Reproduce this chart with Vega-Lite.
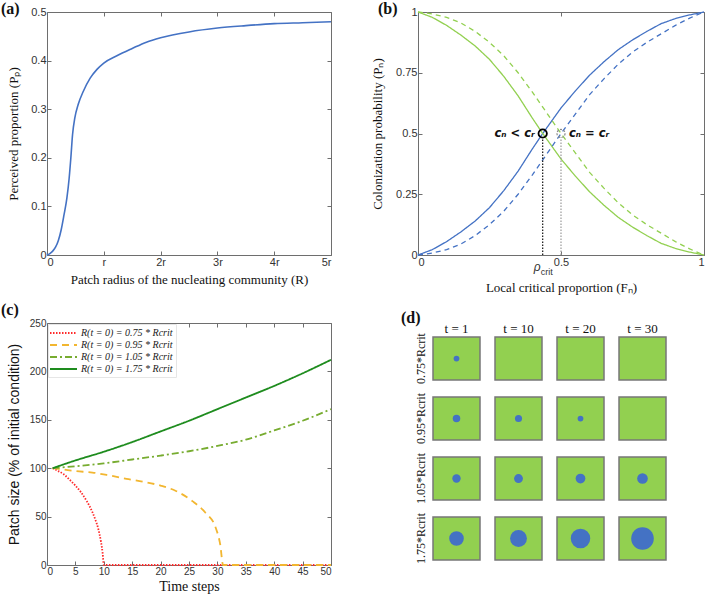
{
 "$schema": "https://vega.github.io/schema/vega-lite/v6.json",
 "bounds": "flush",
 "align": "each",
 "columns": 2,
 "spacing": {"row": 68, "column": 87},
 "padding": {"left": 0, "top": 0, "right": 0, "bottom": 0},
 "resolve": {"scale": {"color": "independent", "strokeDash": "independent"}},
 "config": {
  "view": {"stroke": "#6e6e6e", "strokeWidth": 1},
  "axis": {"domain": false, "grid": false, "tickColor": "#6e6e6e", "tickSize": -4, "tickWidth": 1, "labelFont": "Liberation Sans", "labelFontSize": 11, "labelColor": "#333333", "labelPadding": 5, "titleFont": "Liberation Serif", "titleFontSize": 13, "titleFontWeight": "normal", "titleColor": "#111111"},
  "title": {"font": "Liberation Serif", "fontSize": 16, "fontWeight": "bold", "color": "#111111", "anchor": "start", "frame": "group", "baseline": "alphabetic", "offset": 0},
  "legend": {"orient": "top-left", "offset": 1, "padding": 3, "title": null, "symbolType": "M-1.4,0H4.0", "symbolStrokeWidth": 1.8, "symbolSize": 100, "labelOffset": 18, "labelFont": "Liberation Serif", "labelFontStyle": "italic", "labelFontSize": 10, "labelColor": "#222222", "rowPadding": 1, "fillColor": "white", "strokeColor": "#e6e6e6", "labelLimit": 300}
 },
 "datasets": {
  "pa": [
   {"R": 0, "Pp": 0}, {"R": 0.05, "Pp": 0.003}, {"R": 0.1, "Pp": 0.008}, {"R": 0.15, "Pp": 0.016}, {"R": 0.2, "Pp": 0.03}, {"R": 0.25, "Pp": 0.052}, {"R": 0.3, "Pp": 0.083}, {"R": 0.35, "Pp": 0.117}, {"R": 0.39, "Pp": 0.158}, {"R": 0.42, "Pp": 0.2}, {"R": 0.45, "Pp": 0.248}, {"R": 0.49, "Pp": 0.282}, {"R": 0.55, "Pp": 0.31}, {"R": 0.64, "Pp": 0.337}, {"R": 0.76, "Pp": 0.364}, {"R": 0.88, "Pp": 0.382}, {"R": 1.0, "Pp": 0.395}, {"R": 1.23, "Pp": 0.41}, {"R": 1.5, "Pp": 0.425}, {"R": 1.75, "Pp": 0.438}, {"R": 2.0, "Pp": 0.447}, {"R": 2.5, "Pp": 0.459}, {"R": 3.0, "Pp": 0.467}, {"R": 3.5, "Pp": 0.472}, {"R": 4.0, "Pp": 0.476}, {"R": 4.5, "Pp": 0.478}, {"R": 5.0, "Pp": 0.48}
  ],
  "pb": [
   {"s": "blue solid", "F": 0, "P": 0}, {"s": "blue solid", "F": 0.05, "P": 0.022}, {"s": "blue solid", "F": 0.1, "P": 0.055}, {"s": "blue solid", "F": 0.15, "P": 0.095}, {"s": "blue solid", "F": 0.2, "P": 0.14}, {"s": "blue solid", "F": 0.25, "P": 0.195}, {"s": "blue solid", "F": 0.3, "P": 0.265}, {"s": "blue solid", "F": 0.35, "P": 0.345}, {"s": "blue solid", "F": 0.4, "P": 0.437}, {"s": "blue solid", "F": 0.436, "P": 0.5}, {"s": "blue solid", "F": 0.5, "P": 0.605}, {"s": "blue solid", "F": 0.55, "P": 0.675}, {"s": "blue solid", "F": 0.6, "P": 0.74}, {"s": "blue solid", "F": 0.65, "P": 0.795}, {"s": "blue solid", "F": 0.7, "P": 0.845}, {"s": "blue solid", "F": 0.75, "P": 0.885}, {"s": "blue solid", "F": 0.8, "P": 0.92}, {"s": "blue solid", "F": 0.85, "P": 0.952}, {"s": "blue solid", "F": 0.9, "P": 0.973}, {"s": "blue solid", "F": 0.95, "P": 0.988}, {"s": "blue solid", "F": 1, "P": 1},
   {"s": "green solid", "F": 0, "P": 1}, {"s": "green solid", "F": 0.05, "P": 0.978}, {"s": "green solid", "F": 0.1, "P": 0.945}, {"s": "green solid", "F": 0.15, "P": 0.905}, {"s": "green solid", "F": 0.2, "P": 0.86}, {"s": "green solid", "F": 0.25, "P": 0.805}, {"s": "green solid", "F": 0.3, "P": 0.735}, {"s": "green solid", "F": 0.35, "P": 0.655}, {"s": "green solid", "F": 0.4, "P": 0.563}, {"s": "green solid", "F": 0.436, "P": 0.5}, {"s": "green solid", "F": 0.5, "P": 0.395}, {"s": "green solid", "F": 0.55, "P": 0.325}, {"s": "green solid", "F": 0.6, "P": 0.26}, {"s": "green solid", "F": 0.65, "P": 0.205}, {"s": "green solid", "F": 0.7, "P": 0.155}, {"s": "green solid", "F": 0.75, "P": 0.115}, {"s": "green solid", "F": 0.8, "P": 0.08}, {"s": "green solid", "F": 0.85, "P": 0.048}, {"s": "green solid", "F": 0.9, "P": 0.027}, {"s": "green solid", "F": 0.95, "P": 0.012}, {"s": "green solid", "F": 1, "P": 0},
   {"s": "blue dashed", "F": 0, "P": 0}, {"s": "blue dashed", "F": 0.05, "P": 0.008}, {"s": "blue dashed", "F": 0.1, "P": 0.022}, {"s": "blue dashed", "F": 0.15, "P": 0.045}, {"s": "blue dashed", "F": 0.2, "P": 0.08}, {"s": "blue dashed", "F": 0.25, "P": 0.125}, {"s": "blue dashed", "F": 0.3, "P": 0.18}, {"s": "blue dashed", "F": 0.35, "P": 0.25}, {"s": "blue dashed", "F": 0.4, "P": 0.33}, {"s": "blue dashed", "F": 0.45, "P": 0.415}, {"s": "blue dashed", "F": 0.5, "P": 0.5}, {"s": "blue dashed", "F": 0.55, "P": 0.58}, {"s": "blue dashed", "F": 0.6, "P": 0.66}, {"s": "blue dashed", "F": 0.65, "P": 0.725}, {"s": "blue dashed", "F": 0.7, "P": 0.785}, {"s": "blue dashed", "F": 0.75, "P": 0.835}, {"s": "blue dashed", "F": 0.8, "P": 0.875}, {"s": "blue dashed", "F": 0.85, "P": 0.91}, {"s": "blue dashed", "F": 0.9, "P": 0.945}, {"s": "blue dashed", "F": 0.95, "P": 0.975}, {"s": "blue dashed", "F": 1, "P": 1},
   {"s": "green dashed", "F": 0, "P": 1}, {"s": "green dashed", "F": 0.05, "P": 0.992}, {"s": "green dashed", "F": 0.1, "P": 0.978}, {"s": "green dashed", "F": 0.15, "P": 0.955}, {"s": "green dashed", "F": 0.2, "P": 0.92}, {"s": "green dashed", "F": 0.25, "P": 0.875}, {"s": "green dashed", "F": 0.3, "P": 0.82}, {"s": "green dashed", "F": 0.35, "P": 0.75}, {"s": "green dashed", "F": 0.4, "P": 0.67}, {"s": "green dashed", "F": 0.45, "P": 0.585}, {"s": "green dashed", "F": 0.5, "P": 0.5}, {"s": "green dashed", "F": 0.55, "P": 0.42}, {"s": "green dashed", "F": 0.6, "P": 0.34}, {"s": "green dashed", "F": 0.65, "P": 0.275}, {"s": "green dashed", "F": 0.7, "P": 0.215}, {"s": "green dashed", "F": 0.75, "P": 0.165}, {"s": "green dashed", "F": 0.8, "P": 0.125}, {"s": "green dashed", "F": 0.85, "P": 0.09}, {"s": "green dashed", "F": 0.9, "P": 0.055}, {"s": "green dashed", "F": 0.95, "P": 0.025}, {"s": "green dashed", "F": 1, "P": 0}
  ],
  "pbMarks": [
   {"kind": "crit", "F": 0.436, "P": 0.5, "P0": 0, "P1": 0.484, "label": "cₙ < cᵣ"},
   {"kind": "half", "F": 0.5, "P": 0.5, "P0": 0, "P1": 0.484, "label": "cₙ = cᵣ"}
  ],
  "pc": [
   {"s": "R(t = 0) = 0.75 * Rcrit", "t": 1, "v": 100}, {"s": "R(t = 0) = 0.75 * Rcrit", "t": 2, "v": 97}, {"s": "R(t = 0) = 0.75 * Rcrit", "t": 3, "v": 93.5}, {"s": "R(t = 0) = 0.75 * Rcrit", "t": 4, "v": 88}, {"s": "R(t = 0) = 0.75 * Rcrit", "t": 5, "v": 82}, {"s": "R(t = 0) = 0.75 * Rcrit", "t": 6, "v": 75}, {"s": "R(t = 0) = 0.75 * Rcrit", "t": 7, "v": 66}, {"s": "R(t = 0) = 0.75 * Rcrit", "t": 8, "v": 54.5}, {"s": "R(t = 0) = 0.75 * Rcrit", "t": 8.5, "v": 47}, {"s": "R(t = 0) = 0.75 * Rcrit", "t": 9, "v": 38}, {"s": "R(t = 0) = 0.75 * Rcrit", "t": 9.5, "v": 24}, {"s": "R(t = 0) = 0.75 * Rcrit", "t": 9.8, "v": 12}, {"s": "R(t = 0) = 0.75 * Rcrit", "t": 10, "v": 0}, {"s": "R(t = 0) = 0.75 * Rcrit", "t": 50, "v": 0},
   {"s": "R(t = 0) = 0.95 * Rcrit", "t": 1, "v": 100}, {"s": "R(t = 0) = 0.95 * Rcrit", "t": 3, "v": 98.5}, {"s": "R(t = 0) = 0.95 * Rcrit", "t": 5, "v": 97}, {"s": "R(t = 0) = 0.95 * Rcrit", "t": 8, "v": 95.5}, {"s": "R(t = 0) = 0.95 * Rcrit", "t": 11, "v": 92.5}, {"s": "R(t = 0) = 0.95 * Rcrit", "t": 14, "v": 89}, {"s": "R(t = 0) = 0.95 * Rcrit", "t": 17, "v": 86}, {"s": "R(t = 0) = 0.95 * Rcrit", "t": 20, "v": 82}, {"s": "R(t = 0) = 0.95 * Rcrit", "t": 22.7, "v": 76.5}, {"s": "R(t = 0) = 0.95 * Rcrit", "t": 25.6, "v": 66}, {"s": "R(t = 0) = 0.95 * Rcrit", "t": 27.9, "v": 54}, {"s": "R(t = 0) = 0.95 * Rcrit", "t": 29.7, "v": 38.5}, {"s": "R(t = 0) = 0.95 * Rcrit", "t": 30.5, "v": 21}, {"s": "R(t = 0) = 0.95 * Rcrit", "t": 31, "v": 0}, {"s": "R(t = 0) = 0.95 * Rcrit", "t": 50, "v": 0},
   {"s": "R(t = 0) = 1.05 * Rcrit", "t": 1, "v": 100}, {"s": "R(t = 0) = 1.05 * Rcrit", "t": 5, "v": 102}, {"s": "R(t = 0) = 1.05 * Rcrit", "t": 10, "v": 105}, {"s": "R(t = 0) = 1.05 * Rcrit", "t": 15, "v": 109}, {"s": "R(t = 0) = 1.05 * Rcrit", "t": 20, "v": 113}, {"s": "R(t = 0) = 1.05 * Rcrit", "t": 25, "v": 117.5}, {"s": "R(t = 0) = 1.05 * Rcrit", "t": 30, "v": 123}, {"s": "R(t = 0) = 1.05 * Rcrit", "t": 35, "v": 129.5}, {"s": "R(t = 0) = 1.05 * Rcrit", "t": 40, "v": 139}, {"s": "R(t = 0) = 1.05 * Rcrit", "t": 45, "v": 149}, {"s": "R(t = 0) = 1.05 * Rcrit", "t": 50, "v": 161},
   {"s": "R(t = 0) = 1.75 * Rcrit", "t": 1, "v": 100}, {"s": "R(t = 0) = 1.75 * Rcrit", "t": 5, "v": 108}, {"s": "R(t = 0) = 1.75 * Rcrit", "t": 10, "v": 117}, {"s": "R(t = 0) = 1.75 * Rcrit", "t": 15, "v": 127}, {"s": "R(t = 0) = 1.75 * Rcrit", "t": 20, "v": 138}, {"s": "R(t = 0) = 1.75 * Rcrit", "t": 25, "v": 149}, {"s": "R(t = 0) = 1.75 * Rcrit", "t": 30, "v": 161}, {"s": "R(t = 0) = 1.75 * Rcrit", "t": 35, "v": 173}, {"s": "R(t = 0) = 1.75 * Rcrit", "t": 40, "v": 185}, {"s": "R(t = 0) = 1.75 * Rcrit", "t": 45, "v": 198}, {"s": "R(t = 0) = 1.75 * Rcrit", "t": 50, "v": 212}
  ],
  "pd": [
   {"t": "t = 1", "cond": "0.75*Rcrit", "area": 42}, {"t": "t = 10", "cond": "0.75*Rcrit", "area": 0}, {"t": "t = 20", "cond": "0.75*Rcrit", "area": 0}, {"t": "t = 30", "cond": "0.75*Rcrit", "area": 0},
   {"t": "t = 1", "cond": "0.95*Rcrit", "area": 72}, {"t": "t = 10", "cond": "0.95*Rcrit", "area": 64}, {"t": "t = 20", "cond": "0.95*Rcrit", "area": 42}, {"t": "t = 30", "cond": "0.95*Rcrit", "area": 0},
   {"t": "t = 1", "cond": "1.05*Rcrit", "area": 90}, {"t": "t = 10", "cond": "1.05*Rcrit", "area": 100}, {"t": "t = 20", "cond": "1.05*Rcrit", "area": 121}, {"t": "t = 30", "cond": "1.05*Rcrit", "area": 144},
   {"t": "t = 1", "cond": "1.75*Rcrit", "area": 272}, {"t": "t = 10", "cond": "1.75*Rcrit", "area": 361}, {"t": "t = 20", "cond": "1.75*Rcrit", "area": 484}, {"t": "t = 30", "cond": "1.75*Rcrit", "area": 650}
  ]
 },
 "concat": [
  {
   "width": 284, "height": 243,
   "title": {"text": "(a)", "dx": -46, "dy": 15},
   "data": {"name": "pa"},
   "layer": [
    {"mark": {"type": "line", "color": "#4472c4", "strokeWidth": 1.6, "interpolate": "monotone"},
     "encoding": {
      "x": {"field": "R", "type": "quantitative", "scale": {"domain": [0, 5], "nice": false}, "axis": {"values": [0, 1, 2, 3, 4, 5], "labelExpr": "datum.value == 0 ? '0' : datum.value == 1 ? 'r' : datum.value + 'r'", "title": "Patch radius of the nucleating community (R)", "titlePadding": 6}},
      "y": {"field": "Pp", "type": "quantitative", "scale": {"domain": [0, 0.5], "nice": false}, "axis": {"values": [0, 0.1, 0.2, 0.3, 0.4, 0.5], "labelExpr": "datum.value + ''", "title": "Perceived proportion (Pₚ)", "titlePadding": 10}}
     }},
    {"mark": {"type": "line", "opacity": 0},
     "encoding": {
      "x": {"field": "R", "type": "quantitative", "axis": {"orient": "top", "values": [0, 1, 2, 3, 4, 5], "labels": false, "title": null}},
      "y": {"field": "Pp", "type": "quantitative", "axis": {"orient": "right", "values": [0, 0.1, 0.2, 0.3, 0.4, 0.5], "labels": false, "title": null}}
     }}
   ],
   "resolve": {"axis": {"x": "independent", "y": "independent"}}
  },
  {
   "width": 286, "height": 243,
   "title": {"text": "(b)", "dx": -40, "dy": 15},
   "layer": [
    {
     "encoding": {
      "x": {"field": "F", "type": "quantitative", "scale": {"domain": [0, 1], "nice": false}, "axis": {"values": [0, 0.5, 1], "labelExpr": "datum.value + ''", "title": "Local critical proportion (Fₙ)", "titlePadding": 14}},
      "y": {"field": "P", "type": "quantitative", "scale": {"domain": [0, 1], "nice": false}, "axis": {"values": [0, 0.25, 0.5, 0.75, 1], "labelExpr": "datum.value + ''", "title": "Colonization probability (Pₙ)", "titlePadding": 11}}
     },
     "layer": [
      {"data": {"name": "pb"}, "mark": {"type": "line", "strokeWidth": 1.3},
       "encoding": {
        "color": {"field": "s", "type": "nominal", "scale": {"domain": ["blue solid", "blue dashed", "green solid", "green dashed"], "range": ["#4472c4", "#4472c4", "#92d050", "#92d050"]}, "legend": null},
        "strokeDash": {"field": "s", "type": "nominal", "scale": {"domain": ["blue solid", "blue dashed", "green solid", "green dashed"], "range": [[1, 0], [5, 4], [1, 0], [5, 4]]}, "legend": null}
       }},
      {"data": {"name": "pbMarks"}, "transform": [{"filter": "datum.kind == 'crit'"}], "mark": {"type": "rule", "color": "#111111", "strokeWidth": 1.2, "strokeDash": [1.5, 1.5]},
       "encoding": {"y": {"field": "P0", "type": "quantitative"}, "y2": {"field": "P1"}}},
      {"data": {"name": "pbMarks"}, "transform": [{"filter": "datum.kind == 'half'"}], "mark": {"type": "rule", "color": "#9a9a9a", "strokeWidth": 1.2, "strokeDash": [1.5, 1.5]},
       "encoding": {"y": {"field": "P0", "type": "quantitative"}, "y2": {"field": "P1"}}},
      {"data": {"name": "pbMarks"}, "transform": [{"filter": "datum.kind == 'crit'"}], "mark": {"type": "point", "filled": false, "stroke": "#000000", "strokeWidth": 1.8, "size": 70, "opacity": 1}, "encoding": {}},
      {"data": {"name": "pbMarks"}, "transform": [{"filter": "datum.kind == 'half'"}], "mark": {"type": "point", "filled": false, "stroke": "#8a8a8a", "strokeWidth": 1.2, "strokeDash": [2, 1.5], "size": 65, "opacity": 1}, "encoding": {}},
      {"data": {"name": "pbMarks"}, "transform": [{"filter": "datum.kind == 'crit'"}], "mark": {"type": "text", "align": "right", "baseline": "middle", "dx": -8, "font": "DejaVu Sans", "fontSize": 11.5, "fontStyle": "italic", "fontWeight": "bold", "color": "#111111"}, "encoding": {"text": {"field": "label"}}},
      {"data": {"name": "pbMarks"}, "transform": [{"filter": "datum.kind == 'half'"}], "mark": {"type": "text", "align": "left", "baseline": "middle", "dx": 8, "font": "DejaVu Sans", "fontSize": 11.5, "fontStyle": "italic", "fontWeight": "bold", "color": "#111111"}, "encoding": {"text": {"field": "label"}}},
      {"data": {"name": "pbMarks"}, "transform": [{"filter": "datum.kind == 'crit'"}], "mark": {"type": "text", "align": "right", "baseline": "alphabetic", "dx": -2, "dy": 16, "font": "Liberation Sans", "fontSize": 12, "fontStyle": "italic", "color": "#333333", "text": "ρ"}, "encoding": {"y": {"field": "P0", "type": "quantitative"}}},
      {"data": {"name": "pbMarks"}, "transform": [{"filter": "datum.kind == 'crit'"}], "mark": {"type": "text", "align": "left", "baseline": "alphabetic", "dx": -2, "dy": 20, "font": "Liberation Sans", "fontSize": 9, "color": "#333333", "text": "crit"}, "encoding": {"y": {"field": "P0", "type": "quantitative"}}}
     ]
    },
    {"data": {"name": "pb"}, "mark": {"type": "line", "opacity": 0},
     "encoding": {
      "x": {"field": "F", "type": "quantitative", "axis": {"orient": "top", "values": [0, 0.5, 1], "labels": false, "title": null}},
      "y": {"field": "P", "type": "quantitative", "axis": {"orient": "right", "values": [0, 0.25, 0.5, 0.75, 1], "labels": false, "title": null}}
     }}
   ],
   "resolve": {"axis": {"x": "independent", "y": "independent"}}
  },
  {
   "width": 284, "height": 242,
   "title": {"text": "(c)", "dx": -46, "dy": 4},
   "data": {"name": "pc"},
   "layer": [
    {"mark": {"type": "line", "strokeWidth": 1.8, "interpolate": "monotone"},
     "encoding": {
      "x": {"field": "t", "type": "quantitative", "scale": {"domain": [0, 50], "nice": false}, "axis": {"values": [0, 5, 10, 15, 20, 25, 30, 35, 40, 45, 50], "labelFontSize": 10, "title": "Time steps", "titleFontSize": 14, "titlePadding": 3}},
      "y": {"field": "v", "type": "quantitative", "scale": {"domain": [0, 250], "nice": false}, "axis": {"values": [0, 50, 100, 150, 200, 250], "labelFontSize": 10, "title": "Patch size (% of initial condition)", "titleFont": "Liberation Sans", "titleFontSize": 14, "titlePadding": 8}},
      "color": {"field": "s", "type": "nominal", "scale": {"domain": ["R(t = 0) = 0.75 * Rcrit", "R(t = 0) = 0.95 * Rcrit", "R(t = 0) = 1.05 * Rcrit", "R(t = 0) = 1.75 * Rcrit"], "range": ["#ff2a2a", "#f2b630", "#77ac30", "#1e8c1e"]}, "legend": {"title": null}},
      "strokeDash": {"field": "s", "type": "nominal", "scale": {"domain": ["R(t = 0) = 0.75 * Rcrit", "R(t = 0) = 0.95 * Rcrit", "R(t = 0) = 1.05 * Rcrit", "R(t = 0) = 1.75 * Rcrit"], "range": [[1.5, 1.5], [7, 5], [7, 3, 2, 3], [1, 0]]}, "legend": {"title": null}}
     }},
    {"mark": {"type": "line", "opacity": 0},
     "encoding": {
      "x": {"field": "t", "type": "quantitative", "axis": {"orient": "top", "values": [0, 5, 10, 15, 20, 25, 30, 35, 40, 45, 50], "labels": false, "title": null}},
      "y": {"field": "v", "type": "quantitative", "axis": {"orient": "right", "values": [0, 50, 100, 150, 200, 250], "labels": false, "title": null}}
     }}
   ],
   "resolve": {"axis": {"x": "independent", "y": "independent"}}
  },
  {
   "width": 248, "height": 237,
   "view": {"stroke": null},
   "title": {"text": "(d)", "dx": -17, "dy": 8},
   "data": {"name": "pd"},
   "encoding": {
    "x": {"field": "t", "type": "nominal", "sort": ["t = 1", "t = 10", "t = 20", "t = 30"], "scale": {"paddingInner": 0.242, "paddingOuter": 0.121, "align": 1}, "axis": {"orient": "top", "title": null, "domain": false, "ticks": false, "labelAngle": 0, "labelFont": "Liberation Serif", "labelFontSize": 13, "labelColor": "#111111", "labelPadding": 2, "offset": -14}},
    "y": {"field": "cond", "type": "nominal", "sort": ["0.75*Rcrit", "0.95*Rcrit", "1.05*Rcrit", "1.75*Rcrit"], "scale": {"paddingInner": 0.283, "paddingOuter": 0.117, "align": 1}, "axis": {"title": null, "domain": false, "ticks": false, "labelAngle": 270, "labelAlign": "center", "labelBaseline": "bottom", "labelFont": "Liberation Serif", "labelFontSize": 12, "labelColor": "#111111", "labelPadding": -9}}
   },
   "layer": [
    {"mark": {"type": "rect", "fill": "#92d050", "stroke": "#777777", "strokeWidth": 1.5}},
    {"mark": {"type": "circle", "color": "#4472c4", "opacity": 1},
     "encoding": {"size": {"field": "area", "type": "quantitative", "scale": {"domain": [0, 1000], "range": [0, 785.4]}, "legend": null}}}
   ]
  }
 ]
}
